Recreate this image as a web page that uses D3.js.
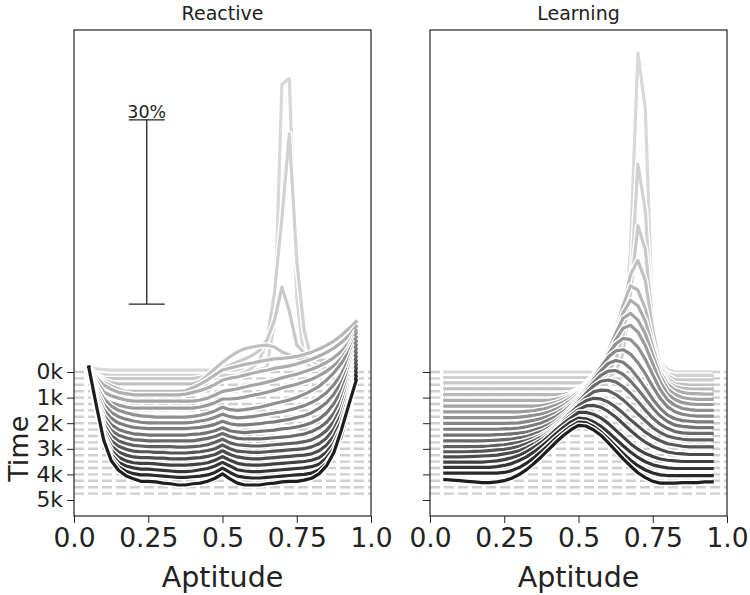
<!DOCTYPE html>
<html>
<head>
<meta charset="utf-8">
<script src="https://cdn.jsdelivr.net/npm/d3@7"></script>
<style>
    body { margin: 0; background: #fff; }
    text { font-family: "DejaVu Sans", sans-serif; }
</style>
</head>
<body>
<div id="wrapper"></div>
<script>
// snapshot times (one curve per snapshot)
const times = [0, 250, 500, 750, 1000, 1250, 1500, 1750, 2000, 2250,
    2500, 2750, 3000, 3250, 3500, 3750, 4000, 4250, 4500, 4750]

const aptitude = [0.05, 0.075, 0.1, 0.125, 0.15, 0.175, 0.2, 0.225, 0.25, 0.275,
    0.3, 0.325, 0.35, 0.375, 0.4, 0.425, 0.45, 0.475, 0.5, 0.525,
    0.55, 0.575, 0.6, 0.625, 0.65, 0.675, 0.7, 0.725, 0.75, 0.775,
    0.8, 0.825, 0.85, 0.875, 0.9, 0.925, 0.95]

// share of population (%) per aptitude bin, one row per snapshot
const reactive = [
    [0.8, 0.5, 0.4, 0.3, 0.3, 0.3, 0.3, 0.3, 0.3, 0.3, 0.3, 0.3, 0.3, 0.3, 0.3, 0.3, 0.3, 0.3, 0.3, 0.3, 0.3, 0.3, 0.3, 0.4, 0.8, 8.0, 46.8, 47.8, 12.0, 2.0, 0.5, 0.5, 0.6, 0.7, 0.8, 1.0, 1.2],
    [1.2, 0.8, 0.6, 0.5, 0.5, 0.5, 0.5, 0.5, 0.5, 0.5, 0.5, 0.5, 0.5, 0.5, 0.5, 0.5, 0.5, 0.5, 0.5, 0.5, 0.5, 1.0, 1.7, 3.0, 6.2, 14.0, 26.0, 39.8, 19.2, 7.8, 3.0, 2.0, 1.6, 1.6, 1.8, 2.2, 2.8],
    [2.8, 1.6, 1.0, 1.0, 1.0, 1.0, 1.0, 1.0, 1.0, 1.0, 1.0, 1.0, 1.0, 1.0, 1.0, 1.2, 1.6, 2.1, 2.7, 3.2, 3.7, 4.2, 4.8, 5.6, 7.3, 10.5, 15.9, 12.0, 6.5, 5.2, 4.3, 4.0, 4.0, 4.3, 4.8, 5.4, 6.2],
    [3.9, 2.6, 1.8, 1.4, 1.2, 1.2, 1.2, 1.2, 1.2, 1.2, 1.2, 1.2, 1.2, 1.2, 1.2, 1.6, 2.6, 3.7, 4.7, 5.6, 6.4, 6.9, 7.2, 7.4, 7.5, 7.2, 6.4, 5.9, 5.4, 5.3, 5.4, 5.8, 6.4, 7.2, 8.3, 9.4, 10.7],
    [4.9, 3.4, 2.5, 1.9, 1.4, 1.0, 1.0, 1.0, 1.0, 1.0, 1.0, 1.0, 1.0, 1.1, 1.6, 2.2, 2.9, 3.7, 4.5, 4.8, 5.1, 5.4, 5.6, 5.9, 6.1, 6.3, 6.4, 6.5, 6.7, 7.0, 7.4, 7.9, 8.5, 9.2, 10.1, 11.2, 12.4],
    [6.0, 4.3, 3.1, 2.4, 1.9, 1.7, 1.5, 1.5, 1.5, 1.5, 1.5, 1.5, 1.5, 1.6, 1.9, 2.2, 2.6, 3.2, 3.9, 4.2, 4.4, 4.7, 5.0, 5.3, 5.5, 5.8, 6.0, 6.2, 6.5, 6.9, 7.3, 7.8, 8.4, 9.1, 10.0, 11.1, 12.6],
    [7.0, 4.8, 3.0, 2.4, 2.0, 1.7, 1.5, 1.5, 1.5, 1.5, 1.5, 1.5, 1.5, 1.5, 1.5, 1.7, 2.0, 2.5, 3.1, 3.3, 3.5, 3.8, 4.1, 4.3, 4.6, 4.9, 5.3, 5.6, 5.9, 6.3, 6.7, 7.2, 7.8, 8.6, 9.6, 11.0, 13.0],
    [8.1, 5.2, 3.0, 2.3, 1.9, 1.6, 1.4, 1.4, 1.4, 1.4, 1.4, 1.4, 1.4, 1.4, 1.4, 1.6, 1.9, 2.3, 2.9, 2.9, 3.0, 3.2, 3.5, 3.7, 4.0, 4.3, 4.7, 5.0, 5.3, 5.7, 6.1, 6.7, 7.4, 8.3, 9.5, 11.2, 13.6],
    [9.1, 6.0, 4.0, 2.8, 2.1, 1.7, 1.4, 1.2, 1.1, 1.0, 1.0, 1.0, 1.0, 1.0, 1.1, 1.3, 1.6, 2.0, 2.6, 2.2, 2.1, 2.2, 2.4, 2.6, 2.9, 3.2, 3.5, 3.8, 4.2, 4.7, 5.3, 6.0, 7.0, 8.2, 9.7, 11.6, 14.0],
    [10.1, 6.5, 4.1, 2.8, 2.1, 1.7, 1.4, 1.2, 1.1, 1.1, 1.1, 1.1, 1.1, 1.1, 1.2, 1.4, 1.6, 2.0, 2.5, 2.1, 1.9, 2.0, 2.1, 2.3, 2.5, 2.7, 2.9, 3.2, 3.5, 3.9, 4.4, 5.1, 6.0, 7.3, 9.0, 11.4, 14.4],
    [11.2, 7.0, 4.3, 2.9, 2.1, 1.7, 1.4, 1.3, 1.2, 1.2, 1.2, 1.2, 1.2, 1.2, 1.3, 1.4, 1.6, 1.9, 2.4, 2.0, 1.8, 1.8, 1.9, 2.0, 2.2, 2.3, 2.5, 2.7, 3.0, 3.3, 3.8, 4.5, 5.4, 6.8, 8.7, 11.3, 14.8],
    [12.2, 7.4, 4.4, 2.9, 2.1, 1.7, 1.4, 1.3, 1.2, 1.2, 1.2, 1.2, 1.2, 1.2, 1.3, 1.4, 1.6, 1.9, 2.4, 1.9, 1.7, 1.6, 1.7, 1.8, 1.9, 2.0, 2.2, 2.3, 2.5, 2.8, 3.2, 3.8, 4.8, 6.3, 8.4, 11.4, 15.2],
    [13.3, 8.0, 4.7, 3.0, 2.2, 1.8, 1.5, 1.4, 1.3, 1.3, 1.3, 1.3, 1.3, 1.3, 1.3, 1.5, 1.7, 2.0, 2.5, 2.0, 1.7, 1.6, 1.6, 1.6, 1.7, 1.8, 1.9, 2.0, 2.2, 2.4, 2.8, 3.4, 4.3, 5.8, 8.0, 11.3, 15.6],
    [14.3, 8.6, 5.0, 3.2, 2.3, 1.9, 1.6, 1.5, 1.4, 1.4, 1.4, 1.4, 1.3, 1.3, 1.4, 1.5, 1.7, 2.1, 2.6, 2.0, 1.7, 1.6, 1.5, 1.5, 1.6, 1.7, 1.8, 1.9, 2.0, 2.2, 2.5, 3.1, 4.0, 5.5, 7.8, 11.4, 16.0],
    [15.3, 9.3, 5.3, 3.4, 2.5, 2.0, 1.7, 1.6, 1.6, 1.5, 1.5, 1.4, 1.4, 1.4, 1.5, 1.6, 1.8, 2.1, 2.7, 2.1, 1.7, 1.6, 1.5, 1.5, 1.6, 1.7, 1.8, 1.9, 2.0, 2.1, 2.4, 2.9, 3.8, 5.3, 7.7, 11.5, 16.4],
    [16.4, 10.0, 5.8, 3.6, 2.6, 2.1, 1.8, 1.7, 1.7, 1.6, 1.6, 1.5, 1.5, 1.5, 1.6, 1.7, 1.9, 2.2, 2.8, 2.2, 1.8, 1.6, 1.5, 1.5, 1.6, 1.7, 1.8, 1.9, 2.0, 2.1, 2.3, 2.8, 3.7, 5.2, 7.6, 11.6, 16.8],
    [17.4, 10.8, 6.3, 3.9, 2.8, 2.2, 1.9, 1.8, 1.8, 1.7, 1.6, 1.5, 1.5, 1.5, 1.6, 1.7, 1.9, 2.3, 2.9, 2.3, 1.8, 1.6, 1.5, 1.5, 1.6, 1.7, 1.8, 1.9, 2.0, 2.1, 2.3, 2.7, 3.6, 5.1, 7.6, 11.8, 17.2],
    [18.4, 11.8, 7.0, 4.3, 3.0, 2.4, 2.1, 1.9, 1.9, 1.8, 1.7, 1.6, 1.5, 1.5, 1.6, 1.8, 2.0, 2.4, 3.0, 2.4, 1.8, 1.6, 1.5, 1.5, 1.6, 1.7, 1.8, 1.9, 2.0, 2.1, 2.3, 2.7, 3.7, 5.3, 7.9, 12.2, 17.6],
    [19.4, 13.0, 7.8, 4.8, 3.3, 2.6, 2.2, 2.0, 2.0, 1.9, 1.8, 1.7, 1.6, 1.6, 1.7, 1.8, 2.0, 2.4, 3.1, 2.4, 1.8, 1.6, 1.5, 1.5, 1.6, 1.7, 1.8, 1.9, 2.0, 2.1, 2.3, 2.8, 3.9, 5.6, 8.3, 12.8, 18.0],
    [20.5, 14.4, 8.7, 5.4, 3.8, 2.9, 2.4, 2.0, 2.0, 1.9, 1.7, 1.6, 1.4, 1.4, 1.6, 1.7, 2.0, 2.5, 3.2, 2.4, 1.7, 1.4, 1.4, 1.4, 1.6, 1.7, 1.9, 2.0, 2.0, 2.2, 2.5, 3.2, 4.5, 6.7, 10.3, 14.4, 18.4]
]

const learning = [
    [0, 0, 0, 0, 0, 0, 0, 0, 0, 0, 0, 0, 0, 0, 0, 0, 0, 0, 0, 0, 0, 0, 0, 0, 3.0, 20.0, 51.9, 42.8, 8.0, 1.5, 0.4, 0, 0, 0, 0, 0, 0],
    [0.15, 0.15, 0.15, 0.15, 0.15, 0.15, 0.15, 0.15, 0.15, 0.15, 0.15, 0.15, 0.15, 0.15, 0.15, 0.15, 0.15, 0.15, 0.15, 0.15, 0.15, 0.15, 0.15, 1.0, 4.0, 14.0, 34.9, 27.3, 7.8, 2.0, 0.8, 0.5, 0.5, 0.5, 0.5, 0.5, 0.5],
    [0.3, 0.3, 0.3, 0.3, 0.3, 0.3, 0.3, 0.3, 0.3, 0.3, 0.3, 0.3, 0.3, 0.3, 0.3, 0.3, 0.3, 0.3, 0.3, 0.3, 0.3, 0.8, 2.0, 4.0, 8.0, 15.0, 25.9, 22.0, 10.0, 3.5, 1.5, 0.8, 0.8, 0.8, 0.8, 0.8, 0.8],
    [0.4, 0.4, 0.4, 0.4, 0.4, 0.4, 0.4, 0.4, 0.4, 0.4, 0.4, 0.4, 0.4, 0.4, 0.4, 0.4, 0.4, 0.4, 0.4, 0.8, 1.5, 2.8, 5.0, 8.5, 13.5, 19.0, 21.3, 18.0, 10.0, 4.0, 2.0, 1.2, 1.1, 1.0, 1.0, 1.0, 1.0],
    [0.5, 0.5, 0.5, 0.5, 0.5, 0.5, 0.5, 0.5, 0.5, 0.5, 0.5, 0.5, 0.5, 0.5, 0.5, 0.5, 0.5, 0.8, 1.3, 2.1, 3.3, 5.0, 7.5, 11.0, 15.0, 18.2, 17.5, 14.5, 9.0, 4.5, 2.5, 1.8, 1.5, 1.4, 1.4, 1.4, 1.4],
    [0.6, 0.6, 0.6, 0.6, 0.6, 0.6, 0.6, 0.6, 0.6, 0.6, 0.6, 0.6, 0.6, 0.6, 0.6, 0.8, 1.1, 1.6, 2.3, 3.3, 4.6, 6.3, 8.6, 11.6, 14.8, 16.9, 16.0, 13.5, 9.2, 5.2, 3.2, 2.3, 1.9, 1.7, 1.7, 1.6, 1.6],
    [0.7, 0.7, 0.7, 0.7, 0.7, 0.7, 0.7, 0.7, 0.7, 0.7, 0.7, 0.7, 0.7, 0.8, 1.0, 1.3, 1.8, 2.4, 3.2, 4.3, 5.7, 7.4, 9.7, 12.5, 15.0, 15.8, 14.7, 12.5, 9.0, 5.6, 3.5, 2.6, 2.1, 1.9, 1.8, 1.8, 1.8],
    [0.8, 0.8, 0.8, 0.8, 0.8, 0.8, 0.8, 0.8, 0.8, 0.8, 0.8, 0.9, 1.0, 1.2, 1.5, 1.9, 2.4, 3.1, 4.0, 5.1, 6.5, 8.2, 10.3, 12.5, 14.4, 14.9, 13.8, 11.6, 8.6, 5.7, 3.7, 2.8, 2.3, 2.1, 2.0, 2.0, 2.0],
    [0.9, 0.9, 0.9, 0.9, 0.9, 0.9, 0.9, 0.9, 0.9, 0.9, 1.0, 1.1, 1.3, 1.5, 1.8, 2.3, 2.9, 3.7, 4.7, 6.0, 7.5, 9.3, 11.2, 12.9, 13.8, 13.6, 12.4, 10.4, 7.9, 5.5, 3.8, 2.9, 2.4, 2.2, 2.1, 2.1, 2.1],
    [1.0, 1.0, 1.0, 1.0, 1.0, 1.0, 1.0, 1.0, 1.0, 1.05, 1.1, 1.3, 1.5, 1.8, 2.2, 2.7, 3.4, 4.3, 5.4, 6.8, 8.4, 10.1, 11.8, 12.8, 13.0, 12.3, 10.9, 9.1, 7.0, 5.1, 3.7, 2.9, 2.5, 2.3, 2.2, 2.2, 2.2],
    [1.1, 1.1, 1.1, 1.1, 1.1, 1.1, 1.1, 1.1, 1.15, 1.2, 1.3, 1.5, 1.8, 2.1, 2.6, 3.2, 4.0, 5.0, 6.2, 7.6, 9.1, 10.6, 11.8, 12.3, 12.0, 11.0, 9.5, 7.8, 6.0, 4.5, 3.4, 2.8, 2.5, 2.4, 2.3, 2.3, 2.3],
    [1.2, 1.2, 1.2, 1.2, 1.2, 1.2, 1.2, 1.25, 1.3, 1.4, 1.5, 1.7, 2.0, 2.4, 2.9, 3.6, 4.5, 5.6, 6.9, 8.3, 9.7, 10.9, 11.6, 11.7, 11.1, 10.0, 8.6, 7.1, 5.6, 4.3, 3.4, 2.8, 2.6, 2.5, 2.4, 2.4, 2.4],
    [1.3, 1.3, 1.3, 1.3, 1.3, 1.3, 1.35, 1.4, 1.5, 1.6, 1.8, 2.0, 2.4, 2.8, 3.4, 4.2, 5.2, 6.4, 7.7, 9.0, 10.2, 11.0, 11.2, 10.9, 10.1, 9.0, 7.7, 6.3, 5.0, 4.0, 3.3, 2.8, 2.6, 2.5, 2.5, 2.5, 2.5],
    [1.4, 1.4, 1.4, 1.4, 1.4, 1.45, 1.5, 1.6, 1.7, 1.9, 2.1, 2.4, 2.8, 3.3, 4.0, 4.9, 5.9, 7.1, 8.3, 9.4, 10.3, 10.6, 10.5, 9.9, 9.0, 7.9, 6.7, 5.6, 4.5, 3.7, 3.1, 2.8, 2.6, 2.5, 2.5, 2.5, 2.5],
    [1.6, 1.6, 1.6, 1.6, 1.65, 1.7, 1.8, 1.9, 2.0, 2.2, 2.5, 2.9, 3.4, 4.0, 4.8, 5.8, 6.9, 8.0, 9.1, 9.9, 10.3, 10.2, 9.7, 8.9, 7.9, 6.8, 5.8, 4.8, 4.0, 3.4, 2.9, 2.7, 2.5, 2.4, 2.4, 2.4, 2.4],
    [1.8, 1.8, 1.8, 1.85, 1.9, 1.95, 2.0, 2.1, 2.3, 2.5, 2.8, 3.3, 3.9, 4.6, 5.5, 6.5, 7.6, 8.6, 9.5, 10.1, 10.2, 9.9, 9.2, 8.3, 7.2, 6.1, 5.1, 4.2, 3.5, 3.0, 2.6, 2.4, 2.3, 2.2, 2.2, 2.2, 2.2],
    [2.0, 2.0, 2.0, 2.0, 2.0, 2.0, 2.1, 2.2, 2.4, 2.7, 3.1, 3.7, 4.4, 5.2, 6.2, 7.3, 8.3, 9.2, 10.1, 10.1, 9.8, 9.2, 8.3, 7.2, 6.1, 5.0, 4.1, 3.4, 2.9, 2.5, 2.3, 2.2, 2.1, 2.1, 2.1, 2.1, 2.1],
    [2.2, 2.2, 2.2, 2.2, 2.2, 2.2, 2.2, 2.3, 2.5, 2.8, 3.3, 3.9, 4.7, 5.6, 6.6, 7.7, 8.7, 9.6, 10.2, 10.1, 9.6, 8.9, 7.9, 6.8, 5.7, 4.7, 3.8, 3.1, 2.6, 2.3, 2.1, 2.0, 2.0, 2.0, 2.0, 2.0, 2.0],
    [2.3, 2.3, 2.3, 2.3, 2.3, 2.3, 2.3, 2.3, 2.4, 2.7, 3.2, 3.9, 4.8, 5.8, 6.9, 8.0, 9.0, 9.9, 10.6, 10.5, 9.9, 9.0, 7.9, 6.7, 5.5, 4.4, 3.5, 2.8, 2.3, 2.0, 1.9, 1.9, 1.9, 1.9, 1.9, 1.9, 1.9],
    [2.3, 2.2, 2.1, 2.0, 1.9, 1.8, 1.8, 1.9, 2.1, 2.5, 3.1, 3.9, 4.9, 6.0, 7.2, 8.4, 9.5, 10.4, 11.1, 11.0, 10.4, 9.5, 8.3, 7.0, 5.7, 4.5, 3.4, 2.6, 2.0, 1.7, 1.7, 1.7, 1.8, 1.8, 1.8, 1.9, 1.9]
]

const panelTitles = ['Reactive', 'Learning']
const xTicks = [0, 0.25, 0.5, 0.75, 1]
const xTickLabels = ['0.0', '0.25', '0.5', '0.75', '1.0']
const timeTicks = [0, 1000, 2000, 3000, 4000, 5000]
const timeTickLabels = ['0k', '1k', '2k', '3k', '4k', '5k']
const scaleBarPct = 30


function renderChart() {
    const dimensions = {
        width: 750,
        height: 595,
        panelWidth: 297,
        boundedHeight: 486,
        top: 30,
        panelLefts: [74, 430]
    }

    // one percent of population drawn as this many time units
    const pctToTime = 240

    const wrapper = d3.select('#wrapper')
        .append('svg')
        .attr('width', dimensions.width)
        .attr('height', dimensions.height)

    const xScale = d3.scaleLinear()
        .domain([0, 1])
        .range([0, dimensions.panelWidth])

    // time grows downwards
    const yScale = d3.scaleLinear()
        .domain([-13360, 5625])
        .range([0, dimensions.boundedHeight])

    const colorScale = d3.scaleLinear()
        .domain([0, times.length - 1])
        .range([0.25, 0.9])

    const lineFor = t => d3.line()
        .x((d, k) => xScale(aptitude[k]))
        .y(d => yScale(t - d * pctToTime))

    const panels = [reactive, learning]

    panels.forEach((series, p) => {
        const bounds = wrapper.append('g')
            .style('transform', `translate(${dimensions.panelLefts[p]}px, ${dimensions.top}px)`)

        // dashed baselines
        bounds.append('g').selectAll('line').data(times).join('line')
            .attr('x1', xScale(0))
            .attr('x2', xScale(1))
            .attr('y1', d => yScale(d))
            .attr('y2', d => yScale(d))
            .attr('stroke', '#cfcfcf')
            .attr('stroke-width', 2.4)
            .attr('stroke-dasharray', '10,4')

        const curves = bounds.append('g').selectAll('g').data(series).join('g')

        curves.append('path')
            .attr('d', (d, i) => lineFor(times[i])(d))
            .attr('fill', 'none')
            .attr('stroke', 'white')
            .attr('stroke-width', 6)
            .attr('stroke-linejoin', 'round')

        curves.append('path')
            .attr('d', (d, i) => lineFor(times[i])(d))
            .attr('fill', 'none')
            .attr('stroke', (d, i) => d3.interpolateGreys(colorScale(i)))
            .attr('stroke-width', 3.2)
            .attr('stroke-linejoin', 'round')
            .attr('stroke-linecap', 'square')

        // frame
        bounds.append('rect')
            .attr('width', dimensions.panelWidth)
            .attr('height', dimensions.boundedHeight)
            .attr('fill', 'none')
            .attr('stroke', '#222')
            .attr('stroke-width', 1.2)

        const xAxisGenerator = d3.axisBottom(xScale)
            .tickValues(xTicks)
            .tickFormat((d, i) => xTickLabels[i])
            .tickSize(7)
            .tickPadding(5)
            .tickSizeOuter(0)

        const xAxis = bounds.append('g')
            .call(xAxisGenerator)
            .style('transform', `translateY(${dimensions.boundedHeight}px)`)
        xAxis.select('.domain').remove()
        xAxis.selectAll('text').style('font-size', '26.5px').attr('fill', '#222')
        xAxis.selectAll('line').attr('stroke', '#222')

        xAxis.append('text')
            .attr('x', dimensions.panelWidth / 2)
            .attr('y', 71)
            .attr('fill', '#222')
            .style('font-size', '28.5px')
            .style('text-anchor', 'middle')
            .text('Aptitude')

        const yAxisGenerator = d3.axisLeft(yScale)
            .tickValues(timeTicks)
            .tickFormat((d, i) => p === 0 ? timeTickLabels[i] : '')
            .tickSize(7)
            .tickPadding(4)
            .tickSizeOuter(0)

        const yAxis = bounds.append('g').call(yAxisGenerator)
        yAxis.select('.domain').remove()
        yAxis.selectAll('text').style('font-size', '21.8px').attr('fill', '#222')
        yAxis.selectAll('line').attr('stroke', '#222')

        bounds.append('text')
            .attr('x', dimensions.panelWidth / 2)
            .attr('y', -10)
            .attr('fill', '#222')
            .style('font-size', '19px')
            .style('text-anchor', 'middle')
            .text(panelTitles[p])

        if (p === 0) {
            yAxis.append('text')
                .attr('transform', `translate(-46, ${yScale(3000)}) rotate(-90)`)
                .attr('fill', '#222')
                .style('font-size', '27px')
                .style('text-anchor', 'middle')
                .text('Time')

            // scale bar
            const barX = xScale(0.245)
            const barTop = yScale(-9850)
            const barBottom = yScale(-9850 + scaleBarPct * pctToTime)
            const bar = bounds.append('g').attr('stroke', '#222').attr('stroke-width', 1.3)
            bar.append('line').attr('x1', barX).attr('x2', barX).attr('y1', barTop).attr('y2', barBottom)
            bar.append('line').attr('x1', barX - 18).attr('x2', barX + 18).attr('y1', barTop).attr('y2', barTop)
            bar.append('line').attr('x1', barX - 18).attr('x2', barX + 18).attr('y1', barBottom).attr('y2', barBottom)
            bounds.append('text')
                .attr('x', barX)
                .attr('y', barTop - 2)
                .attr('fill', '#222')
                .style('font-size', '17.5px')
                .style('text-anchor', 'middle')
                .text(`${scaleBarPct}%`)
        }
    })
}

renderChart()
</script>
</body>
</html>
